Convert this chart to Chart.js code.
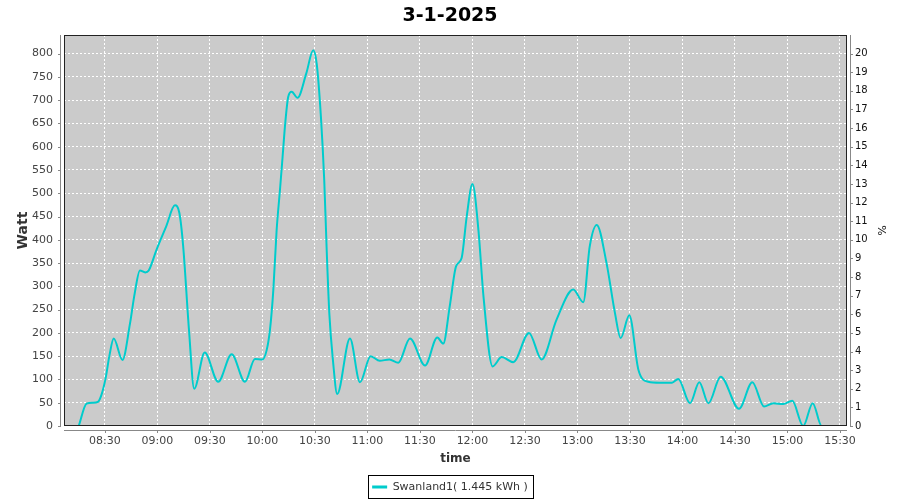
<!DOCTYPE html>
<html>
<head>
<meta charset="utf-8">
<script src="https://cdn.jsdelivr.net/npm/chart.js@4.4.1/dist/chart.umd.min.js"></script>
<style>
html, body { margin: 0; padding: 0; background: #fff; }
</style>
</head>
<body>
<canvas id="power-chart" width="900" height="500"></canvas>
<script>
var chartTitle = '3-1-2025';
var seriesLabel = 'Swanland1( 1.445 kWh )';

// minutes after midnight
var times = [495, 499.5, 503, 506, 508, 510.5, 512.5, 515, 520, 524.3, 527, 530, 533, 535,
  539.5, 545, 550, 552.5, 554.7, 558, 561, 567, 574.7, 582.4, 590, 595.7, 600, 602.4,
  604.3, 606.2, 608.1, 610, 611.5, 613, 614.7, 616.7, 620, 625, 629, 631, 633.4, 635.3,
  636.7, 638.2, 640.3, 642.7, 650, 655.7, 661.8, 667, 672.5, 677.6, 684.3, 692.9, 699.9,
  703.3, 707, 710.6, 713.8, 716.7, 720, 723.4, 726.3, 731.5, 736.7, 743.3, 752.3, 759.5,
  768, 777.6, 783.3, 787, 791, 796.6, 801.4, 804.7, 809.6, 814.8, 820.4, 827, 834, 837.6,
  844.3, 849.6, 854.8, 861.8, 872.3, 879.9, 886.6, 891.9, 897.6, 902.7, 909, 914.4, 919.5, 924.3];
var watts = [0, 48, 50, 52, 67, 105, 150, 188, 142, 220, 285, 334, 330, 334,
  379, 429, 474, 458, 386, 207, 80, 158, 95, 154, 95, 144, 143, 163,
  207, 292, 421, 507, 578, 650, 707, 718, 705, 757, 807, 778, 664, 528,
  378, 242, 140, 69, 188, 94, 150, 140, 143, 136, 188, 130, 190,
  177, 257, 343, 361, 450, 520, 421, 278, 128, 148, 137, 200, 143,
  228, 293, 266, 386, 432, 350, 243, 189, 238, 121, 95, 93, 93, 101,
  49, 94, 49, 106, 37, 94, 42, 49, 47, 54, 0, 49, 0, 0];

var timeTicks = [510, 540, 570, 600, 630, 660, 690, 720, 750, 780, 810, 840, 870, 900, 930];
var wattTicks = [0, 50, 100, 150, 200, 250, 300, 350, 400, 450, 500, 550, 600, 650, 700, 750, 800];
var pctTicks = [0, 1, 2, 3, 4, 5, 6, 7, 8, 9, 10, 11, 12, 13, 14, 15, 16, 17, 18, 19, 20];

var points = times.map(function(t, i) { return {x: t, y: watts[i]}; });

function hhmm(v) {
  var h = Math.floor(v / 60), m = Math.round(v % 60);
  return (h < 10 ? '0' : '') + h + ':' + (m < 10 ? '0' : '') + m;
}

function useTicks(list) {
  return function(scale) {
    scale.ticks = list.map(function(v) { return {value: v}; });
  };
}

// plot background, outline, offset axis lines and tick marks
var plotFrame = {
  id: 'plotFrame',
  beforeDraw: function(chart) {
    var a = chart.chartArea, ctx = chart.ctx;
    ctx.save();
    ctx.fillStyle = '#cbcbcb';
    ctx.fillRect(a.left, a.top, a.right - a.left, a.bottom - a.top);
    ctx.restore();
  },
  afterDraw: function(chart) {
    var a = chart.chartArea, ctx = chart.ctx, s = chart.scales;
    ctx.save();
    ctx.lineWidth = 1;
    ctx.strokeStyle = '#222';
    ctx.strokeRect(a.left + 0.5, a.top + 0.5, a.right - a.left - 1, a.bottom - a.top - 1);

    ctx.strokeStyle = '#888';
    ctx.beginPath();
    // left
    ctx.moveTo(a.left - 3.5, a.top); ctx.lineTo(a.left - 3.5, a.bottom);
    s.y.ticks.forEach(function(t) {
      var p = Math.round(s.y.getPixelForValue(t.value)) + 0.5;
      ctx.moveTo(a.left - 6, p); ctx.lineTo(a.left - 3, p);
    });
    // right
    ctx.moveTo(a.right + 3.5, a.top); ctx.lineTo(a.right + 3.5, a.bottom);
    s.y2.ticks.forEach(function(t) {
      var p = Math.round(s.y2.getPixelForValue(t.value)) + 0.5;
      ctx.moveTo(a.right + 3, p); ctx.lineTo(a.right + 6, p);
    });
    // bottom
    ctx.moveTo(a.left, a.bottom + 4.5); ctx.lineTo(a.right, a.bottom + 4.5);
    s.x.ticks.forEach(function(t) {
      var p = Math.round(s.x.getPixelForValue(t.value)) + 0.5;
      ctx.moveTo(p, a.bottom + 4); ctx.lineTo(p, a.bottom + 7);
    });
    ctx.stroke();

    // legend frame
    var hb = chart.legend.legendHitBoxes[0];
    if (hb) {
      var cy = hb.top + hb.height / 2;
      ctx.strokeStyle = '#000';
      ctx.strokeRect(Math.round(hb.left - 4) + 0.5, Math.round(cy - 12) + 0.5,
        Math.round(hb.width + 9), 23);
    }
    ctx.restore();
  }
};

var ctx = document.getElementById('power-chart').getContext('2d');
var powerChart = new Chart(ctx, {
  type: 'line',
  data: {
    datasets: [{
      label: seriesLabel,
      data: points,
      borderColor: '#00cccc',
      backgroundColor: '#00cccc',
      borderWidth: 2,
      pointRadius: 0,
      cubicInterpolationMode: 'monotone',
      fill: false
    }]
  },
  options: {
    responsive: false,
    animation: false,
    devicePixelRatio: 1,
    layout: { padding: { left: 0, right: 0, top: 0, bottom: 7.5 } },
    plugins: {
      title: {
        display: true,
        text: chartTitle,
        color: '#000',
        font: { family: 'DejaVu Sans', size: 19, weight: 'bold' },
        padding: { top: 5, bottom: 7.2 }
      },
      legend: {
        position: 'bottom',
        maxHeight: 14,
        labels: {
          boxWidth: 15,
          boxHeight: 3,
          padding: 3,
          color: '#333',
          font: { family: 'DejaVu Sans', size: 11 },
          generateLabels: function(chart) {
            return Chart.defaults.plugins.legend.labels.generateLabels(chart).map(function(item) {
              item.lineWidth = 0;
              item.fillStyle = '#00cccc';
              return item;
            });
          }
        }
      },
      tooltip: { enabled: false }
    },
    scales: {
      x: {
        type: 'linear',
        min: 486.6,
        max: 934,
        afterBuildTicks: useTicks(timeTicks),
        afterFit: function(scale) { scale.height = 52.5; },
        grid: { color: '#fff', drawTicks: false },
        border: { display: false, dash: [2, 2] },
        ticks: {
          padding: 9,
          color: '#444',
          font: { family: 'DejaVu Sans', size: 11 },
          maxRotation: 0,
          callback: function(v) { return hhmm(v); }
        },
        title: {
          display: true,
          text: 'time',
          color: '#333',
          font: { family: 'DejaVu Sans', size: 12, weight: 'bold' },
          padding: { top: 0, bottom: 12 }
        }
      },
      y: {
        position: 'left',
        min: 0,
        max: 840,
        afterBuildTicks: useTicks(wattTicks),
        afterFit: function(scale) { scale.width = 64; },
        grid: { color: '#fff', drawTicks: false },
        border: { display: false, dash: [2, 2] },
        ticks: {
          padding: 11,
          color: '#444',
          font: { family: 'DejaVu Sans', size: 11 }
        },
        title: {
          display: true,
          text: 'Watt',
          color: '#333',
          font: { family: 'DejaVu Sans', size: 14, weight: 'bold' },
          padding: { top: 15, bottom: 0 }
        }
      },
      y2: {
        position: 'right',
        min: 0,
        max: 21,
        afterBuildTicks: useTicks(pctTicks),
        afterFit: function(scale) { scale.width = 53; },
        grid: { display: false, drawTicks: false },
        border: { display: false },
        ticks: {
          padding: 8,
          color: '#111',
          font: { family: 'DejaVu Sans', size: 10 }
        },
        title: {
          display: true,
          text: '%',
          color: '#111',
          font: { family: 'DejaVu Sans', size: 11 },
          padding: { top: 13, bottom: 0 }
        }
      }
    }
  },
  plugins: [plotFrame]
});
</script>
</body>
</html>
